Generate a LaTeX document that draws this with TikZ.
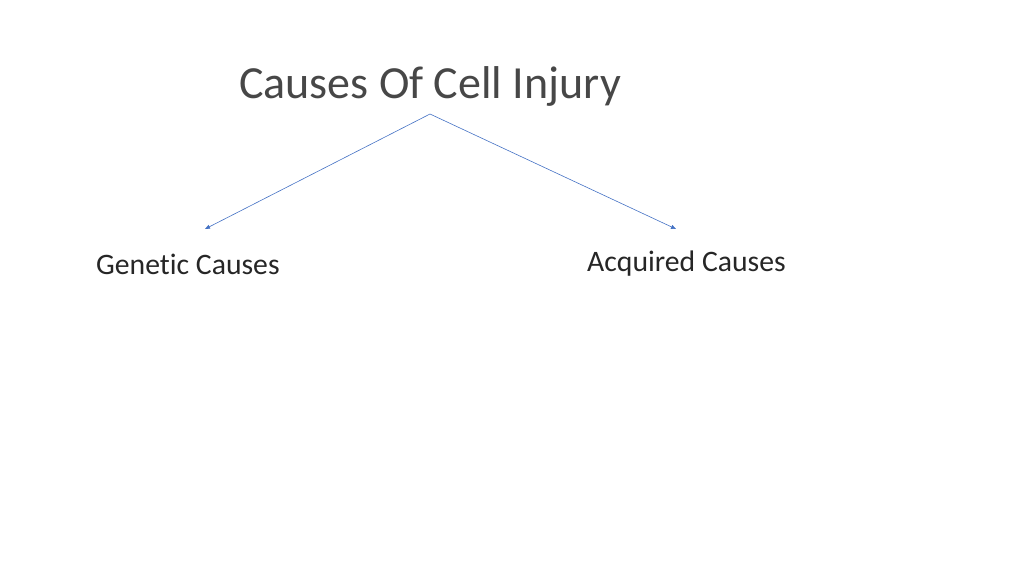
\documentclass[tikz,border=0pt]{standalone}
\usepackage{fontspec}
\setmainfont{Carlito}[Ligatures=NoCommon]
\usetikzlibrary{arrows.meta}
\definecolor{arr}{RGB}{68,114,196}
\definecolor{txt}{RGB}{38,38,38}
\begin{document}
\begin{tikzpicture}[x=1pt,y=-1pt,
  lbl/.style={text=txt,font=\fontsize{29.7}{34}\selectfont,inner sep=0pt},
  conn/.style={draw=arr,line width=0.6pt,-{Triangle[length=5pt,width=4pt]}}]
\useasboundingbox (0,0) rectangle (1024,576);
\node[text=txt!85,font=\fontsize{46}{52}\selectfont,inner sep=0pt] (title) at (430,86) {Causes Of Cell Injury};
\coordinate (top) at (430,114);
\coordinate (l) at (205,229);
\coordinate (r) at (676,229);
\node[lbl,anchor=west] (gen) at (96,264) {Genetic Causes};
\node[lbl,anchor=west] (acq) at (587,264) {Acquired Causes};
\draw[conn] (top) -- (l);
\draw[conn] (top) -- (r);
\end{tikzpicture}
\end{document}
